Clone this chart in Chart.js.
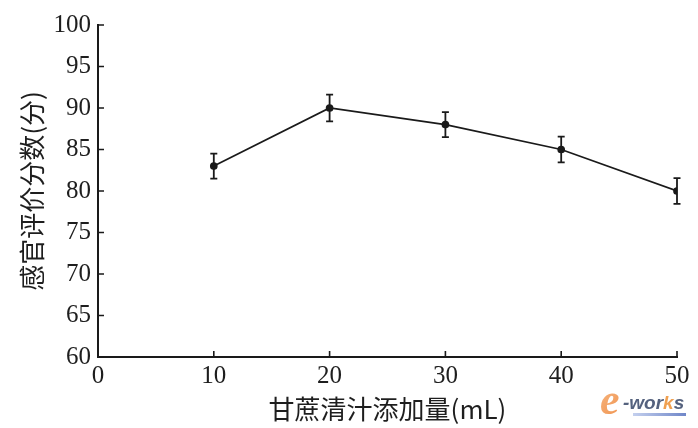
<!DOCTYPE html>
<html>
<head>
<meta charset="utf-8">
<script src="https://cdn.jsdelivr.net/npm/chart.js@4.4.1/dist/chart.umd.min.js"></script>
<style>
html,body{margin:0;padding:0;background:#ffffff;}
#wrap{width:698px;height:428px;position:relative;}
</style>
</head>
<body>
<div id="wrap"><canvas id="c" width="698" height="428"></canvas></div>
<script>
// ---- data ----
const additionML = [10, 20, 30, 40, 50];
const sensoryScore = [83, 90, 88, 85, 80];
const scoreError = [1.5, 1.6, 1.5, 1.55, 1.55];
const xTickValues = [0, 10, 20, 30, 40, 50];
const yTickValues = [60, 65, 70, 75, 80, 85, 90, 95, 100];
const xTitle = '甘蔗清汁添加量(mL)';
const yTitle = '感官评价分数(分)';

const INK = '#1a1a1a';
const TEXT = '#1e1e1e';

const errorBars = {
  id: 'errorBars',
  afterDatasetsDraw(chart) {
    const ctx = chart.ctx, xs = chart.scales.x, ys = chart.scales.y;
    ctx.save();
    ctx.strokeStyle = INK;
    ctx.lineWidth = 1.8;
    for (let i = 0; i < additionML.length; i++) {
      const px = xs.getPixelForValue(additionML[i]);
      const top = ys.getPixelForValue(sensoryScore[i] + scoreError[i]);
      const bot = ys.getPixelForValue(sensoryScore[i] - scoreError[i]);
      ctx.beginPath();
      ctx.moveTo(px, top); ctx.lineTo(px, bot);
      ctx.moveTo(px - 3.5, top); ctx.lineTo(px + 3.5, top);
      ctx.moveTo(px - 3.5, bot); ctx.lineTo(px + 3.5, bot);
      ctx.stroke();
    }
    ctx.restore();
  }
};

const inwardTicks = {
  id: 'inwardTicks',
  afterDraw(chart) {
    const ctx = chart.ctx, xs = chart.scales.x, ys = chart.scales.y, a = chart.chartArea;
    ctx.save();
    ctx.strokeStyle = INK;
    ctx.lineWidth = 1.6;
    ctx.beginPath();
    xTickValues.forEach(v => {
      const px = xs.getPixelForValue(v);
      ctx.moveTo(px, a.bottom); ctx.lineTo(px, a.bottom - 6);
    });
    yTickValues.forEach(v => {
      const py = ys.getPixelForValue(v);
      ctx.moveTo(a.left, py); ctx.lineTo(a.left + 6, py);
    });
    ctx.stroke();
    // watermark
    ctx.textBaseline = 'alphabetic';
    const eg = ctx.createLinearGradient(600, 392, 628, 416);
    eg.addColorStop(0, '#f6b27a');
    eg.addColorStop(1, '#ef8f4a');
    ctx.font = 'italic bold 44px "Liberation Serif"';
    ctx.fillStyle = eg;
    ctx.fillText('e', 600, 414);
    ctx.font = 'italic bold 19px "Liberation Sans"';
    ctx.fillStyle = '#55627e';
    let x0 = 623;
    ctx.fillText('-wor', x0, 409);
    x0 += ctx.measureText('-wor').width;
    ctx.fillStyle = '#f0a050';
    ctx.fillText('k', x0, 409);
    x0 += ctx.measureText('k').width;
    ctx.fillStyle = '#55627e';
    ctx.fillText('s', x0, 409);
    const grad = ctx.createLinearGradient(633, 0, 686, 0);
    grad.addColorStop(0, '#c4d0ee');
    grad.addColorStop(1, '#6f86c8');
    ctx.fillStyle = grad;
    ctx.fillRect(633, 413, 53, 3);
    ctx.restore();
  }
};

new Chart(document.getElementById('c'), {
  type: 'line',
  data: {
    datasets: [{
      data: additionML.map((x, i) => ({x: x, y: sensoryScore[i]})),
      borderColor: INK,
      borderWidth: 1.7,
      pointRadius: 3,
      pointBackgroundColor: INK,
      pointBorderColor: INK,
      tension: 0,
      fill: false
    }]
  },
  options: {
    responsive: false,
    animation: false,
    devicePixelRatio: 1,
    plugins: { legend: {display: false}, tooltip: {enabled: false} },
    layout: { padding: {top: 25, right: 21, left: 0, bottom: 0} },
    scales: {
      x: {
        type: 'linear',
        min: 0, max: 50,
        afterFit: s => { s.height = 71; },
        afterBuildTicks: s => { s.ticks = xTickValues.map(v => ({value: v})); },
        ticks: { color: TEXT, font: {family: 'Liberation Serif', size: 25}, padding: 4, maxRotation: 0 },
        grid: { drawOnChartArea: false, drawTicks: false },
        border: { display: true, color: INK, width: 2 },
        title: { display: true, text: xTitle, color: TEXT, font: {family: 'Noto Sans CJK SC', size: 26}, padding: {top: 0, bottom: 3} }
      },
      y: {
        type: 'linear',
        min: 60, max: 100,
        afterFit: s => { s.width = 98; },
        afterBuildTicks: s => { s.ticks = yTickValues.map(v => ({value: v})); },
        ticks: { color: TEXT, font: {family: 'Liberation Serif', size: 25}, padding: 7 },
        grid: { drawOnChartArea: false, drawTicks: false },
        border: { display: true, color: INK, width: 2 },
        title: { display: true, text: yTitle, color: TEXT, font: {family: 'Noto Sans CJK SC', size: 26}, padding: {top: 17, bottom: 0} }
      }
    }
  },
  plugins: [errorBars, inwardTicks]
});
</script>
</body>
</html>
